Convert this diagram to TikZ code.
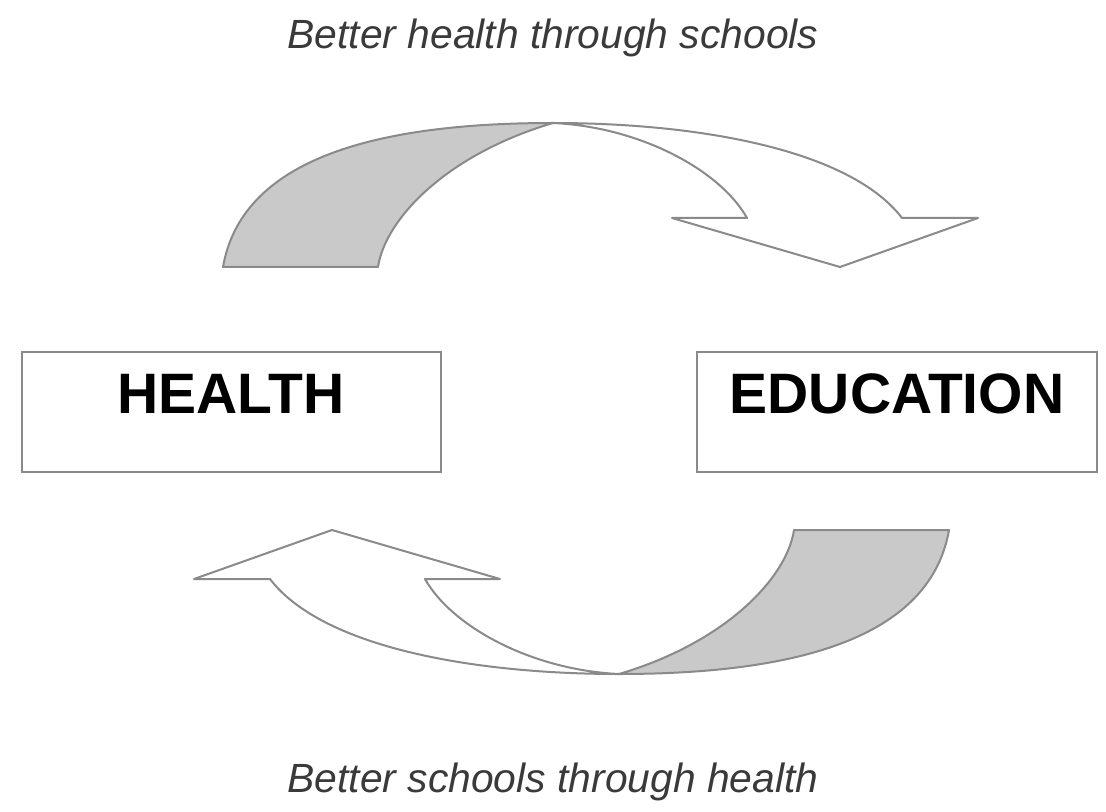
\documentclass[tikz,border=0pt]{standalone}
\usepackage{fontspec}
\setmainfont{Liberation Sans}
\definecolor{edge}{HTML}{8A8A8A}
\definecolor{ribbon}{HTML}{C9C9C9}
\definecolor{titlegray}{HTML}{3A3A3A}
\tikzset{
  arrowline/.style={draw=edge, line width=1pt, line join=round},
  backside/.style={arrowline, fill=ribbon},
  frontside/.style={arrowline, fill=white},
  boxstyle/.style={draw=edge, line width=1.2pt, fill=white},
  boxtext/.style={font=\fontsize{28.5}{30}\selectfont\bfseries, text=black, anchor=base, inner sep=0pt},
  titletext/.style={font=\fontsize{20.4}{24}\selectfont\itshape, text=titlegray, anchor=base, inner sep=0pt}
}
\begin{document}
\begin{tikzpicture}[x=0.5pt, y=-0.5pt]
\useasboundingbox (0,0) rectangle (1106,812);
\fill[white] (0,0) rectangle (1106,812);

% titles
\node[titletext] (ttop) at (553,49) {Better health through schools};
\node[titletext] (tbot) at (553,792) {Better schools through health};

% boxes
\path[boxstyle] (22,352) rectangle (441,472);
\path[boxstyle] (697,352) rectangle (1097,472);
\node[boxtext] (health) at (231,413) {HEALTH};
\node[boxtext] (education) at (897,413) {EDUCATION};

% top curved arrow
\begin{scope}
  \path[backside] (223,267) .. controls (240,170) and (350,123) .. (553,123)
     .. controls (445,155) and (385,220) .. (378,267) -- cycle;
  \path[frontside] (553,123) .. controls (700,123) and (850,150) .. (902,218)
     -- (978,218) -- (840,267) -- (672,218) -- (747,218)
     .. controls (720,170) and (640,127) .. (553,123) -- cycle;
\end{scope}

% bottom curved arrow (same shape turned half round)
\begin{scope}[rotate around={180:(586,398.5)}]
  \path[backside] (223,267) .. controls (240,170) and (350,123) .. (553,123)
     .. controls (445,155) and (385,220) .. (378,267) -- cycle;
  \path[frontside] (553,123) .. controls (700,123) and (850,150) .. (902,218)
     -- (978,218) -- (840,267) -- (672,218) -- (747,218)
     .. controls (720,170) and (640,127) .. (553,123) -- cycle;
\end{scope}
\end{tikzpicture}
\end{document}
